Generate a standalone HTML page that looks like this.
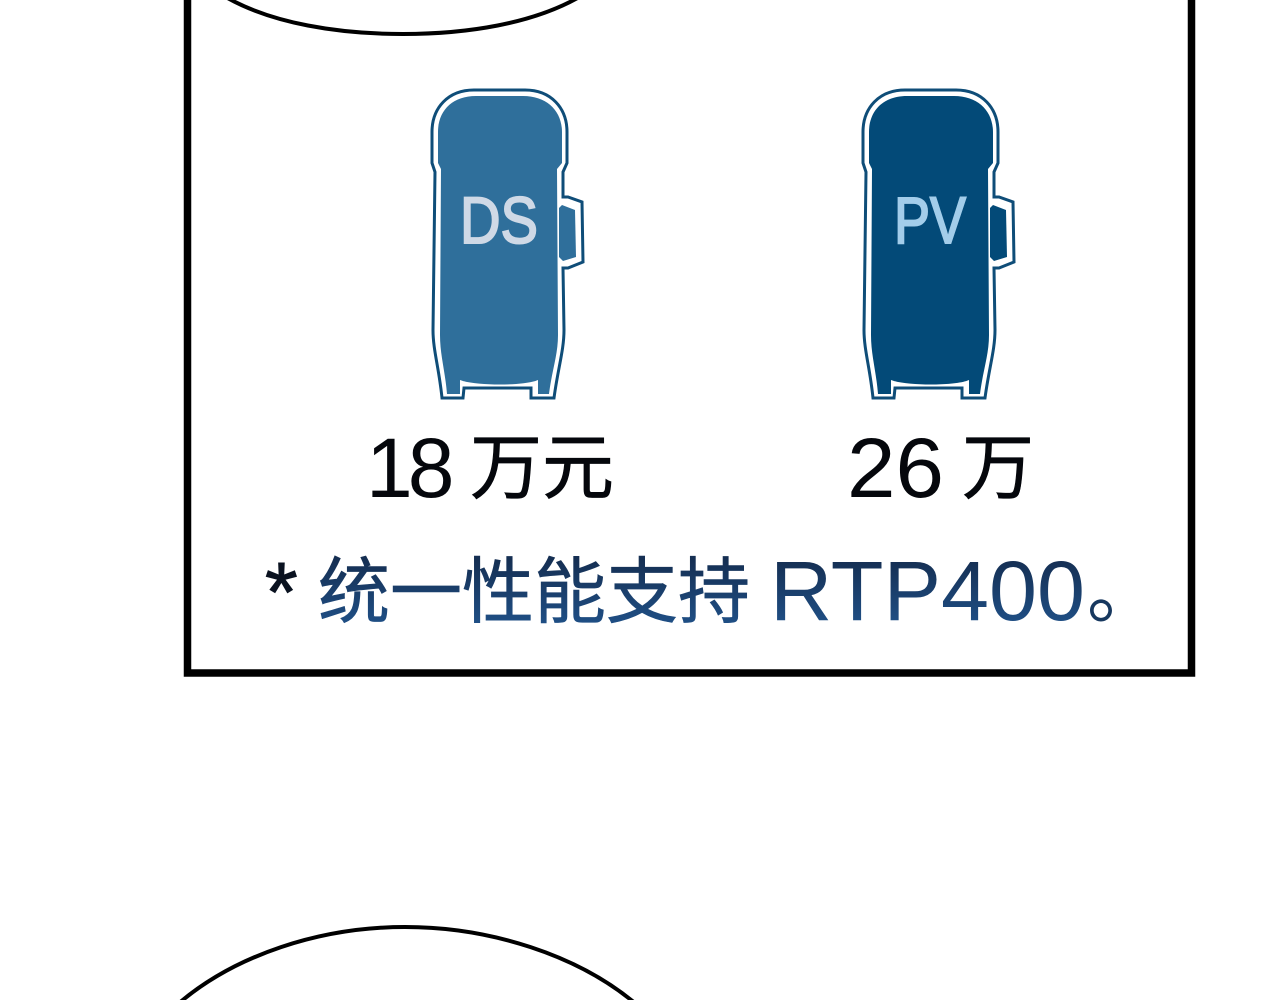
<!DOCTYPE html>
<html lang="zh">
<head>
<meta charset="utf-8">
<title>DS PV</title>
<style>
html,body{margin:0;padding:0;background:#fff;width:1280px;height:1000px;overflow:hidden}
svg{display:block}
.lat{font-family:"Liberation Sans",sans-serif}
.cjk{font-family:"Liberation Sans","Noto Sans CJK SC",sans-serif;font-weight:400}
</style>
</head>
<body>
<svg width="1280" height="1000" viewBox="0 0 1280 1000" xmlns="http://www.w3.org/2000/svg">
<defs>
<linearGradient id="g" gradientUnits="userSpaceOnUse" x1="0" y1="560" x2="0" y2="630">
<stop offset="0" stop-color="#152f53"/>
<stop offset="1" stop-color="#20528a"/>
</linearGradient>
<path id="outer" d="M432,163 L432,132 C432,108 448,90 474,90 L525,90 C551,90 567,108 567,132 L567,163 L563,172 L563,197 L568,197 L582,202 L583,262 L568,268 L563,268 L564,330 C564,350 558,368 554,398 L531,398 L531,388 L464,388 L463,398 L442,398 C439,368 433,350 433,330 L435,172 Z"/>
<path id="inner" d="M438,163 L438,132 C438,111 452,96 476,96 L523,96 C547,96 562,111 562,132 L562,163 L557,169 L558,335 C558,355 552,370 549,394 L538,394 L538,380 C525,386 475,386 460,380 L460,394 L447,394 C445,370 440,355 440,335 L441,169 Z"/>
<path id="handle" d="M559,208 L562,205 L575,210 L576,257 L563,261 L559,257 Z"/>
</defs>

<!-- frame -->
<path d="M187.500,-10 L187.500,673 L1191.500,673 L1191.500,-10" fill="none" stroke="#000" stroke-width="7.500"/>

<!-- arcs -->
<path d="M224,-4 C272,24 340,34 403,34 C466,34 533,24 581,-4" fill="none" stroke="#000" stroke-width="4"/>
<path d="M178,1004 C235,955 320,927 405,927 C490,927 578,955 636,1004" fill="none" stroke="#000" stroke-width="4"/>

<!-- DS -->
<g>
<use href="#outer" fill="#fff" stroke="#0f4d78" stroke-width="3"/>
<use href="#inner" fill="#2f6f9b"/>
<use href="#handle" fill="#2f6f9b"/>
<text class="lat" x="460" y="243" font-size="66" fill="#cfd9e6" stroke="#cfd9e6" stroke-width="2" textLength="78" lengthAdjust="spacingAndGlyphs">DS</text>
</g>

<!-- PV -->
<g transform="translate(431,0)">
<use href="#outer" fill="#fff" stroke="#0f4d78" stroke-width="3"/>
<use href="#inner" fill="#034a78"/>
<use href="#handle" fill="#034a78"/>
<text class="lat" x="463" y="243" font-size="66" fill="#a3cdea" stroke="#a3cdea" stroke-width="2" textLength="72" lengthAdjust="spacingAndGlyphs">PV</text>
</g>

<!-- prices -->
<text class="lat" x="366" y="497" font-size="84" fill="#05070c">1<tspan dx="-5">8</tspan></text>
<text class="cjk" x="470" y="493" font-size="72" fill="#05070c" stroke="#05070c" stroke-width="0.700">万元</text>
<text class="lat" x="847" y="497" font-size="84" fill="#05070c" textLength="97" lengthAdjust="spacingAndGlyphs">26</text>
<text class="cjk" x="962" y="493" font-size="72" fill="#05070c" stroke="#05070c" stroke-width="0.700">万</text>

<!-- note -->
<text class="lat" x="265" y="621" font-size="84" fill="#0a1220" stroke="#0a1220" stroke-width="1">*</text>
<text class="cjk" x="318" y="617" font-size="72" fill="url(#g)" stroke="url(#g)" stroke-width="0.700">统一性能支持</text>
<text class="lat" x="770" y="620" font-size="84" fill="url(#g)" textLength="315" lengthAdjust="spacingAndGlyphs">RTP400</text>
<text class="cjk" x="1087" y="617" font-size="72" fill="#17385f">。</text>
</svg>
</body>
</html>
